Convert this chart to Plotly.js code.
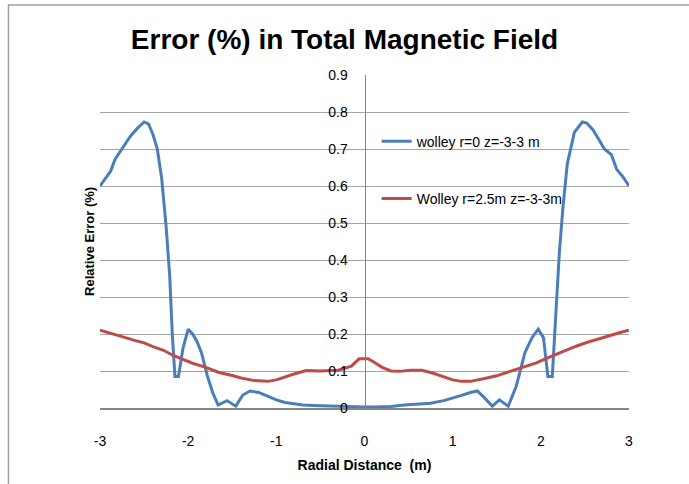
<!DOCTYPE html>
<html>
<head>
<meta charset="utf-8">
<script src="https://cdn.plot.ly/plotly-3.0.1.min.js"></script>
<style>html,body{margin:0;padding:0;background:#fff;}#chart{width:689px;height:484px;}</style>
</head>
<body>
<div id="chart"></div>
<script>
const titleText = "Error (%) in Total Magnetic Field";
const xTitle = "Radial Distance  (m)";
const yTitle = "Relative Error (%)";
const seriesNames = ["wolley r=0 z=-3-3 m", "Wolley r=2.5m z=-3-3m"];

const blueX = [-3.00,-2.93,-2.88,-2.83,-2.75,-2.66,-2.58,-2.50,-2.45,-2.40,-2.35,-2.30,-2.25,-2.21,-2.18,-2.15,-2.11,-2.06,-2.00,-1.95,-1.90,-1.85,-1.78,-1.72,-1.66,-1.56,-1.46,-1.38,-1.30,-1.20,-1.10,-1.00,-0.90,-0.80,-0.70,-0.50,-0.30,-0.10,0.00,0.10,0.30,0.45,0.60,0.75,0.90,1.00,1.10,1.20,1.28,1.35,1.45,1.53,1.63,1.72,1.82,1.90,1.97,2.03,2.06,2.08,2.13,2.17,2.21,2.25,2.30,2.38,2.47,2.52,2.59,2.66,2.72,2.80,2.86,2.93,3.00];
const blueY = [0.600,0.625,0.640,0.672,0.700,0.733,0.755,0.773,0.768,0.740,0.700,0.620,0.490,0.360,0.200,0.085,0.085,0.160,0.213,0.200,0.180,0.150,0.085,0.040,0.008,0.020,0.005,0.035,0.046,0.042,0.032,0.022,0.015,0.011,0.008,0.006,0.004,0.003,0.003,0.003,0.004,0.008,0.010,0.013,0.020,0.026,0.034,0.042,0.046,0.030,0.005,0.022,0.005,0.058,0.150,0.190,0.213,0.190,0.120,0.085,0.085,0.250,0.420,0.540,0.660,0.745,0.773,0.770,0.752,0.725,0.700,0.685,0.645,0.625,0.600];

const redX = [-3.00,-2.90,-2.75,-2.60,-2.50,-2.40,-2.28,-2.17,-2.05,-1.95,-1.80,-1.65,-1.50,-1.40,-1.25,-1.10,-1.00,-0.90,-0.80,-0.66,-0.50,-0.30,-0.15,-0.06,0.04,0.10,0.20,0.30,0.40,0.52,0.65,0.78,0.90,1.00,1.10,1.20,1.35,1.50,1.65,1.80,1.95,2.05,2.20,2.30,2.40,2.52,2.64,2.75,2.90,3.00];
const redY = [0.210,0.204,0.193,0.182,0.176,0.166,0.156,0.142,0.130,0.121,0.110,0.096,0.088,0.081,0.074,0.072,0.076,0.084,0.092,0.101,0.100,0.102,0.113,0.133,0.133,0.125,0.110,0.100,0.099,0.102,0.102,0.094,0.084,0.076,0.072,0.072,0.079,0.087,0.099,0.111,0.122,0.133,0.148,0.158,0.167,0.177,0.186,0.194,0.204,0.210];

const xTicks = [-3,-2,-1,0,1,2,3];
const yTicks = [0,0.1,0.2,0.3,0.4,0.5,0.6,0.7,0.8,0.9];

const FONT = "Liberation Sans Narrow, Liberation Sans, Arial, sans-serif";

const traces = [
  {x: blueX, y: blueY, mode: "lines", name: seriesNames[0], line: {color: "#4A7EBB", width: 3}, legend: "legend"},
  {x: redX, y: redY, mode: "lines", name: seriesNames[1], line: {color: "#BE4B48", width: 3}, legend: "legend2"}
];

const layout = {
  width: 689, height: 484,
  margin: {l: 100, r: 60, t: 75, b: 76},
  paper_bgcolor: "#ffffff", plot_bgcolor: "#ffffff",
  font: {family: FONT, size: 13, color: "#000"},
  title: {text: "<b>" + titleText + "</b>", font: {family: FONT, size: 28, color: "#000"}, x: 0.5, xanchor: "center", y: 0.918, yanchor: "middle"},
  showlegend: true,
  legend: {x: 0.523, y: 0.80, xanchor: "left", yanchor: "middle", bgcolor: "rgba(0,0,0,0)", font: {family: FONT, size: 14}},
  legend2: {x: 0.523, y: 0.628, xanchor: "left", yanchor: "middle", bgcolor: "rgba(0,0,0,0)", font: {family: FONT, size: 14}},
  xaxis: {
    range: [-3, 3], tickvals: xTicks, ticktext: xTicks.map(String),
    showgrid: false, zeroline: false, showline: true, linecolor: "#868686", linewidth: 1.5,
    ticks: "", ticklabelstandoff: 20, tickfont: {family: FONT, size: 14},
    title: {text: "<b>" + xTitle + "</b>", font: {family: FONT, size: 14}, standoff: 12}
  },
  yaxis: {
    range: [0, 0.9], tickvals: yTicks, ticktext: yTicks.map(v => String(v)),
    anchor: "free", position: 0.5, side: "left",
    showgrid: true, gridcolor: "#A6A6A6", gridwidth: 1, zeroline: false,
    showline: true, linecolor: "#868686", linewidth: 1.5,
    ticks: "", ticklabelstandoff: 14, tickfont: {family: FONT, size: 14}
  },
  annotations: [{
    text: "<b>" + yTitle + "</b>", textangle: -90, xref: "paper", yref: "paper",
    x: -0.02, y: 0.5, xanchor: "center", yanchor: "middle", showarrow: false,
    font: {family: FONT, size: 13}
  }],
  shapes: [{
    type: "path", xref: "paper", yref: "paper",
    path: "M -0.173 -0.3 L -0.173 1.21 L 1.2 1.21",
    line: {color: "#A0A0A0", width: 1.5}
  }]
};

Plotly.newPlot("chart", traces, layout, {displayModeBar: false, staticPlot: true});
</script>
</body>
</html>
